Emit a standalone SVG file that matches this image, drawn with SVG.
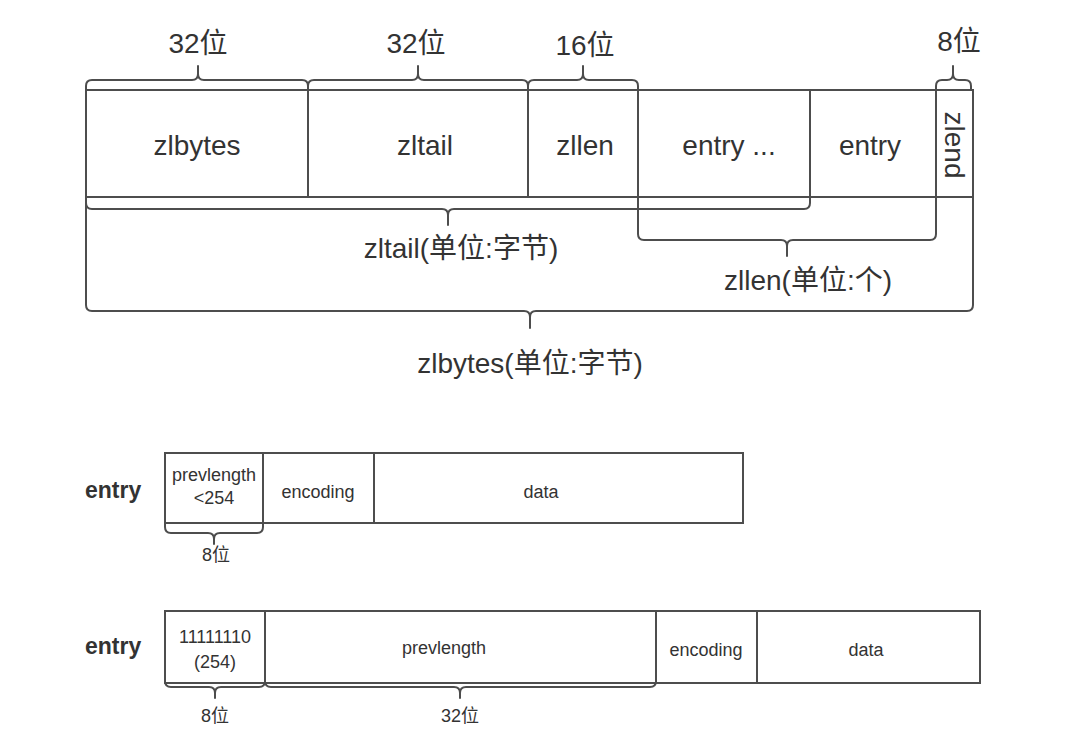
<svg xmlns="http://www.w3.org/2000/svg" width="1072" height="744" viewBox="0 0 1072 744">
<style>
.ln{fill:none;stroke:#4d4d4d;stroke-width:2;stroke-linecap:round;stroke-linejoin:round}
.bx{fill:#fff;stroke:#4d4d4d;stroke-width:2}
.t{font-family:"Liberation Sans","Noto Sans CJK SC",sans-serif;fill:#333;text-anchor:middle}
.big{font-size:28px}
.sm{font-size:18px}
.lbl{font-size:23px;font-weight:bold;text-anchor:start}
</style>
<rect width="1072" height="744" fill="#fff"/>
<g id="ziplist">
<rect class="bx" x="86" y="90" width="887" height="107"/>
<g id="zlbytes"><line class="ln" x1="308" y1="90" x2="308" y2="197"/><text class="t big" x="197" y="155">zlbytes</text></g>
<g id="zltail"><line class="ln" x1="528" y1="90" x2="528" y2="197"/><text class="t big" x="425" y="155">zltail</text></g>
<g id="zllen"><line class="ln" x1="638" y1="90" x2="638" y2="197"/><text class="t big" x="585" y="155">zllen</text></g>
<g id="entry1"><line class="ln" x1="810" y1="90" x2="810" y2="197"/><text class="t big" x="729" y="155">entry ...</text></g>
<g id="entry2"><line class="ln" x1="936" y1="90" x2="936" y2="197"/><text class="t big" x="870" y="155">entry</text></g>
<g id="zlend"><text class="t big" transform="translate(945,145) rotate(90)">zlend</text></g>
</g>
<g id="connectors">
<path class="ln" d="M86,90 V86 Q86,80 92,80 H192 Q198,80 198,74 V66 M198,74 Q198,80 204,80 H302 Q308,80 308,86 V90"/>
<path class="ln" d="M308,90 V86 Q308,80 314,80 H412 Q418,80 418,74 V66 M418,74 Q418,80 424,80 H522 Q528,80 528,86 V90"/>
<path class="ln" d="M528,90 V86 Q528,80 534,80 H577 Q583,80 583,74 V66 M583,74 Q583,80 589,80 H632 Q638,80 638,86 V90"/>
<path class="ln" d="M936,90 V86 Q936,80 942,80 H947 Q953,80 953,74 V66 M953,74 Q953,80 959,80 H965 Q971,80 971,86 V90"/>
<path class="ln" d="M86,197 V203 Q86,209 92,209 H442 Q448,209 448,215 V225 M448,215 Q448,209 454,209 H804 Q810,209 810,203 V197"/>
<path class="ln" d="M638,197 V234 Q638,240 644,240 H781 Q787,240 787,246 V256 M787,246 Q787,240 793,240 H930 Q936,240 936,234 V197"/>
<path class="ln" d="M86,197 V305 Q86,311 92,311 H524 Q530,311 530,317 V328 M530,317 Q530,311 536,311 H967 Q973,311 973,305 V197"/>
<path class="ln" d="M165,523 V527 Q165,533 171,533 H208 Q214,533 214,539 V544 M214,539 Q214,533 220,533 H257 Q263,533 263,527 V523"/>
<path class="ln" d="M165,683 V681 Q165,687 171,687 H209 Q215,687 215,693 V698 M215,693 Q215,687 221,687 H259 Q265,687 265,681 V683"/>
<path class="ln" d="M265,683 V681 Q265,687 271,687 H454 Q460,687 460,693 V698 M460,693 Q460,687 466,687 H650 Q656,687 656,681 V683"/>
</g>
<g id="labels">
<text class="t big" x="198" y="53">32位</text>
<text class="t big" x="416" y="53">32位</text>
<text class="t big" x="585" y="55">16位</text>
<text class="t big" x="959" y="51">8位</text>
<text class="t big" x="461" y="258">zltail(单位:字节)</text>
<text class="t big" x="808" y="290">zllen(单位:个)</text>
<text class="t big" x="530" y="373">zlbytes(单位:字节)</text>
</g>
<g id="entry-small">
<text class="t lbl" x="85" y="498">entry</text>
<rect class="bx" x="165" y="453" width="578" height="70"/>
<line class="ln" x1="263" y1="453" x2="263" y2="523"/>
<line class="ln" x1="374" y1="453" x2="374" y2="523"/>
<text class="t sm" x="214" y="481">prevlength</text>
<text class="t sm" x="214" y="504">&lt;254</text>
<text class="t sm" x="318" y="498">encoding</text>
<text class="t sm" x="541" y="498">data</text>
<text class="t sm" x="216" y="561">8位</text>
</g>
<g id="entry-large">
<text class="t lbl" x="85" y="654">entry</text>
<rect class="bx" x="165" y="611" width="815" height="72"/>
<line class="ln" x1="265" y1="611" x2="265" y2="683"/>
<line class="ln" x1="656" y1="611" x2="656" y2="683"/>
<line class="ln" x1="757" y1="611" x2="757" y2="683"/>
<text class="t sm" x="215" y="643">11111110</text>
<text class="t sm" x="215" y="668">(254)</text>
<text class="t sm" x="444" y="654">prevlength</text>
<text class="t sm" x="706" y="656">encoding</text>
<text class="t sm" x="866" y="656">data</text>
<text class="t sm" x="215" y="722">8位</text>
<text class="t sm" x="460" y="722">32位</text>
</g>
</svg>
